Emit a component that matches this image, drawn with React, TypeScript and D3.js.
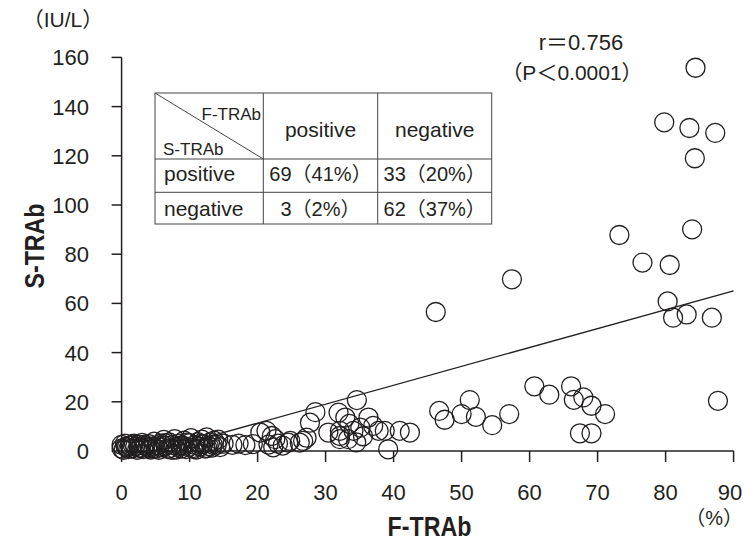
import React from 'react';
import * as d3 from 'd3';

// F-TRAb (%) vs S-TRAb (IU/L)
const lowCluster: [number, number][] = [
  [0, 1], [0, 2.5], [0.3, 0.5], [0.5, 3], [0.8, 1.5], [1, 0.8], [1.2, 2.2], [1.5, 1], [1.8, 3], [2, 1.8],
  [2.3, 0.5], [2.5, 2.5], [2.8, 1.2], [3, 3.3], [3.2, 0.8], [3.5, 2], [3.8, 1.5], [4, 2.8], [4.3, 0.6], [4.5, 1.8],
  [4.8, 3.8], [5, 1], [5.2, 2.3], [5.5, 0.5], [5.8, 3], [6, 1.5], [6.2, 4.5], [6.5, 2.2], [6.8, 0.8], [7, 3.5],
  [7.2, 1.2], [7.5, 2.5], [7.8, 4.8], [8, 0.6], [8.2, 1.8], [8.5, 3], [8.8, 1], [9, 2.2], [9.2, 4.2], [9.5, 0.8],
  [9.8, 1.6], [10, 3.2], [10.2, 5.2], [10.5, 1.2], [10.8, 2.4], [11, 0.6], [11.2, 3.6], [11.5, 1.8], [11.8, 4.6], [12, 2.8],
  [12.3, 1], [12.5, 5.5], [12.8, 2], [13, 3.5], [13.3, 1.4], [13.6, 4.2], [14, 2.5], [14.5, 1.6], [15, 3],
  [0.6, 1.8], [1.6, 2.6], [2.6, 1.4], [3.4, 2.6], [4.2, 1.2], [5.6, 1.8], [6.4, 3.2], [7.4, 0.5], [8.6, 2.2], [9.6, 3.4],
  [10.6, 0.8], [11.6, 2.8], [12.6, 1.2], [13.4, 2.6], [14.2, 4.6],
];

const midLeft: [number, number][] = [
  [16.3, 2.5], [17.2, 3], [18.2, 2.4], [19.3, 2.8], [20.4, 7.5], [21.3, 8.2], [22.1, 6.1], [21.6, 2.6], [22.3, 1.5], [23, 3],
  [23.7, 2.2], [22.6, 4.8], [24.5, 3.4], [24.8, 4.1], [26.2, 3.4], [26.7, 4.1], [27.2, 5.4], [27.7, 11.5], [28.5, 15.8],
];

const midCenter: [number, number][] = [
  [30.4, 7.5], [31.9, 15.6], [32.9, 13.6], [32.1, 8.2], [32.1, 4.8], [33.3, 4.8], [34.1, 8.2], [35.1, 9.5], [34.6, 20.7], [36.3, 13.6],
  [37.0, 10.2], [37.8, 8.2], [38.7, 8.2], [40.9, 8.2], [42.4, 7.5], [39.2, 0.7], [32.1, 6.1], [33.5, 11], [34.5, 3.5], [35.5, 6],
];

const midRight: [number, number][] = [
  [46.2, 56.5], [46.7, 16.3], [47.5, 12.7], [50.0, 15.0], [51.2, 20.7], [52.1, 13.9], [54.5, 10.5], [57.0, 15.0], [57.4, 69.8],
  [60.7, 26.3], [62.9, 22.9], [66.1, 26.3], [66.5, 20.8], [67.9, 21.8], [69.1, 18.4], [71.1, 15.0], [67.4, 7.2], [69.1, 7.2],
];

const highRight: [number, number][] = [
  [73.2, 87.8], [76.6, 76.6], [80.6, 75.6], [80.3, 60.8], [81.1, 54.2], [83.1, 55.5], [86.8, 54.2], [87.7, 20.4],
  [79.8, 133.6], [83.5, 131.3], [87.3, 129.3], [84.3, 119.0], [83.9, 90.1], [84.4, 155.8],
];

const points = [...lowCluster, ...midLeft, ...midCenter, ...midRight, ...highRight];

// regression line
const fitSlope = 0.768;
const fitIntercept = -4.0;
const fitRange = [5.2, 90];

const xTicks = [0, 10, 20, 30, 40, 50, 60, 70, 80, 90];
const yTicks = [0, 20, 40, 60, 80, 100, 120, 140, 160];

// 2x2 table
const colHeads = ['positive', 'negative'];
const rowHeads = ['positive', 'negative'];
const cells = [
  ['69（41%）', '33（20%）'],
  ['3（2%）', '62（37%）'],
];

const FONT = '"Liberation Sans", Arial, "Noto Sans CJK JP", sans-serif';
const INK = '#231f20';

export default function App() {
  const W = 744, H = 543;
  const x = d3.scaleLinear().domain([0, 90]).range([121.6, 733.6]);
  const y = d3.scaleLinear().domain([0, 160]).range([451, 57.4]);

  const fitLine = d3.line<number>()
    .x(d => x(d))
    .y(d => y(fitSlope * d + fitIntercept));

  // table geometry
  const tX = [155, 263.3, 377.7, 491.7];
  const tY = [93, 159, 192.3, 224];
  const rowBase = [181.3, 216.3];

  return (
    <svg width={W} height={H} style={{ position: 'absolute', left: 0, top: 0, background: '#fff' }}
      fontFamily={FONT} fill={INK}>
      {/* points */}
      <g fill="none" stroke={INK} strokeWidth={1.3}>
        {points.map((p, i) => (
          <circle key={i} cx={x(p[0])} cy={y(p[1])} r={9.5} />
        ))}
      </g>

      <path d={fitLine(fitRange) || ''} fill="none" stroke={INK} strokeWidth={1.3} />

      {/* axes */}
      <g stroke={INK} strokeWidth={1.5}>
        <line x1={x(0)} x2={x(0)} y1={y(0)} y2={y(160)} />
        <line x1={x(0)} x2={x(90)} y1={y(0)} y2={y(0)} />
        {yTicks.map(t => <line key={t} x1={x(0) - 10} x2={x(0)} y1={y(t)} y2={y(t)} />)}
        {xTicks.map(t => <line key={t} x1={x(t)} x2={x(t)} y1={y(0)} y2={y(0) + 11} />)}
      </g>
      <g fontSize={22}>
        {yTicks.map(t => (
          <text key={t} x={89} y={y(t)} dy="0.36em" textAnchor="end">{t}</text>
        ))}
        {xTicks.map(t => (
          <text key={t} x={Math.min(x(t), 730)} y={500} textAnchor="middle">{t}</text>
        ))}
      </g>

      <text transform="translate(429.5,536) scale(0.86,1)" fontSize={27} fontWeight="bold" textAnchor="middle">F-TRAb</text>
      <text transform="translate(44,246) rotate(-90) scale(0.86,1)" fontSize={27} fontWeight="bold" textAnchor="middle">S-TRAb</text>
      <text x={63} y={27} fontSize={21} textAnchor="middle">（IU/L）</text>
      <text x={743} y={525} fontSize={20} textAnchor="end">（%）</text>

      <text x={581} y={50} fontSize={22} textAnchor="middle">r＝0.756</text>
      <text x={572} y={80} fontSize={21} textAnchor="middle">（P＜0.0001）</text>

      {/* table */}
      <g>
        <rect x={tX[0]} y={tY[0]} width={tX[3] - tX[0]} height={tY[3] - tY[0]} fill="#fff" stroke="#444" strokeWidth={1} />
        <g stroke="#444" strokeWidth={1}>
          {tX.slice(1, 3).map((v, i) => <line key={'c' + i} x1={v} x2={v} y1={tY[0]} y2={tY[3]} />)}
          {tY.slice(1, 3).map((v, i) => <line key={'r' + i} x1={tX[0]} x2={tX[3]} y1={v} y2={v} />)}
          <line x1={tX[0]} y1={tY[0]} x2={tX[1]} y2={tY[1]} />
        </g>
        <text x={261} y={119.7} fontSize={17} textAnchor="end">F-TRAb</text>
        <text x={163} y={154.7} fontSize={17}>S-TRAb</text>
        {colHeads.map((c, i) => (
          <text key={c} x={(tX[i + 1] + tX[i + 2]) / 2} y={137} fontSize={21} textAnchor="middle">{c}</text>
        ))}
        {rowHeads.map((r, j) => (
          <text key={r} x={164} y={rowBase[j]} fontSize={21}>{r}</text>
        ))}
        {cells.map((row, j) => row.map((c, i) => (
          <text key={j + '-' + i} x={(tX[i + 1] + tX[i + 2]) / 2} y={rowBase[j]} fontSize={20} textAnchor="middle">{c}</text>
        )))}
      </g>
    </svg>
  );
}
